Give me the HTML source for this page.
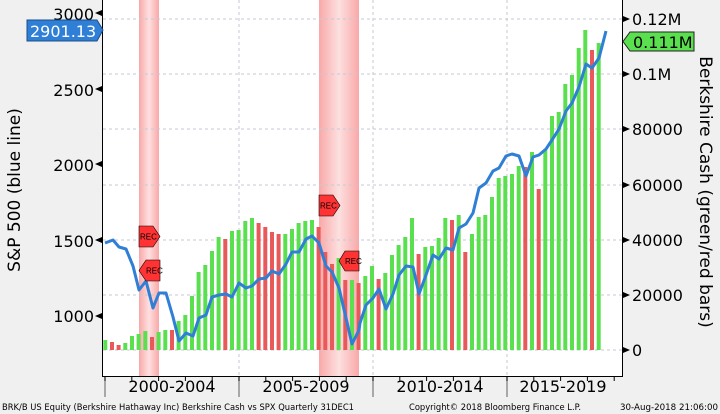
<!DOCTYPE html>
<html><head><style>body{margin:0;background:#f0f0f0}svg{display:block;font-family:"DejaVu Sans","Liberation Sans",sans-serif}</style></head><body>
<svg width="720" height="414" viewBox="0 0 720 414" xmlns="http://www.w3.org/2000/svg">
<defs><linearGradient id="rg" x1="0" x2="1"><stop offset="0" stop-color="#f9a8a8"/><stop offset="0.5" stop-color="#fde0e0"/><stop offset="1" stop-color="#f9a8a8"/></linearGradient></defs>
<rect x="0" y="0" width="720" height="414" fill="#f0f0f0"/>
<rect x="103" y="0" width="519" height="376" fill="#fff"/>
<rect x="139" y="0" width="20" height="376" fill="url(#rg)"/>
<rect x="319" y="0" width="40" height="376" fill="url(#rg)"/>
<g stroke="#c4cad4" stroke-dasharray="3,3" stroke-width="1">
<line x1="103" x2="622" y1="19" y2="19"/><line x1="103" x2="622" y1="74" y2="74"/><line x1="103" x2="622" y1="129" y2="129"/><line x1="103" x2="622" y1="185" y2="185"/><line x1="103" x2="622" y1="240" y2="240"/><line x1="103" x2="622" y1="295" y2="295"/><line x1="103" x2="622" y1="350" y2="350"/>
<line x1="239" x2="239" y1="0" y2="376"/><line x1="373" x2="373" y1="0" y2="376"/><line x1="507" x2="507" y1="0" y2="376"/>
</g>
<g id="bars"></g>
<polyline fill="none" stroke="#2f7fd6" stroke-width="3" stroke-linejoin="round" points="105,243 113,240 119,247 126,249 133,266 139,290 146,281 153,308 159,293 166,293 173,317 179,341 186,333 193,336 199,318 206,315 212,297 219,295 226,294 232,297 239,283 246,288 252,286 259,279 266,278 272,271 279,274 286,264 292,252 299,252 306,239 312,236 319,243 326,266 332,272 339,288 346,318 352,344 359,330 360,323 366,305 373,298 379,289 386,309 393,294 399,275 406,266 413,267 419,294 426,275 433,255 439,259 446,248 453,250 459,228 466,224 473,213 479,188 486,183 493,171 499,168 506,156 512,154 519,156 526,176 533,157 539,155 546,149 552,140 559,129 566,111 572,103 579,87 586,64 592,68 599,58 606,31"/>
<g stroke="#000" stroke-width="0.6" fill="#f33">
<path d="M139,226 h14 l7,10.5 l-7,10.5 h-14z"/><path d="M139,270.5 l7,-10.5 h14 v21 h-14z"/>
<path d="M319,195 h14 l7,10.5 l-7,10.5 h-14z"/><path d="M339,261 l6,-10 h14 v20 h-14z"/>
</g>
<g font-family="Liberation Sans,sans-serif" font-size="8" fill="#000"><text x="140" y="239.5">REC</text><text x="146" y="273.5">REC</text><text x="320" y="208.5">REC</text><text x="345" y="264">REC</text></g>
<line x1="102.5" y1="0" x2="102.5" y2="377" stroke="#000"/>
<line x1="622.5" y1="0" x2="622.5" y2="377" stroke="#000"/>
<line x1="102" y1="376.5" x2="623" y2="376.5" stroke="#000"/>
<g stroke="#777" stroke-width="1.2"><line x1="105" x2="105" y1="377" y2="397"/><line x1="239" x2="239" y1="377" y2="397"/><line x1="373" x2="373" y1="377" y2="397"/><line x1="507" x2="507" y1="377" y2="397"/></g>
<g id="minor" stroke="#000"></g>
<g font-size="16" fill="#000" text-anchor="end"><text x="94" y="20">3000</text><text x="94" y="96">2500</text><text x="94" y="171">2000</text><text x="94" y="247">1500</text><text x="94" y="322">1000</text></g>
<g fill="#000"><path d="M95,13 l7,-3 v6z M95,89 l7,-3 v6z M95,164 l7,-3 v6z M95,240 l7,-3 v6z M95,316 l7,-3 v6z"/>
<path d="M623,16 l7,3 l-7,3z M623,71 l7,3 l-7,3z M623,126 l7,3 l-7,3z M623,182 l7,3 l-7,3z M623,237 l7,3 l-7,3z M623,292 l7,3 l-7,3z M623,347 l7,3 l-7,3z"/></g>
<g font-size="16" fill="#000"><text x="632" y="25">0.12M</text><text x="632" y="80">0.1M</text><text x="632" y="135">80000</text><text x="632" y="191">60000</text><text x="632" y="246">40000</text><text x="632" y="301">20000</text><text x="632" y="356">0</text></g>
<path d="M27,20 h70 l6,10 l-6,11 h-70z" fill="#2f7fd6" stroke="#1a4f8a"/>
<text x="30" y="37" font-size="16" fill="#fff">2901.13</text>
<path d="M630,32 h64 v19 h-64 l-7,-9.5z" fill="#5ae04f" stroke="#222"/>
<text x="633" y="48" font-size="16" fill="#000">0.111M</text>
<text transform="translate(20,190) rotate(-90)" text-anchor="middle" font-size="17" fill="#000">S&amp;P 500 (blue line)</text>
<text transform="translate(700,192) rotate(90)" text-anchor="middle" font-size="17" fill="#000">Berkshire Cash (green/red bars)</text>
<g font-size="16" fill="#000" text-anchor="middle"><text x="172" y="392">2000-2004</text><text x="306" y="392">2005-2009</text><text x="440" y="392">2010-2014</text><text x="563" y="392">2015-2019</text></g>
<g font-size="9" fill="#000"><text x="2" y="410" textLength="352" lengthAdjust="spacingAndGlyphs">BRK/B US Equity (Berkshire Hathaway Inc) Berkshire Cash vs SPX  Quarterly 31DEC1</text><text x="409" y="410" textLength="172" lengthAdjust="spacingAndGlyphs">Copyright© 2018 Bloomberg Finance L.P.</text><text x="620" y="410" textLength="98" lengthAdjust="spacingAndGlyphs">30-Aug-2018 21:06:00</text></g>
</svg>
<script>
var d="340g 342r 345r 343g 336g 334g 331g 337r 332g 330g 330r 321g 315g 296g 272g 265g 251g 237g 239r 231g 230g 221g 218g 223r 227r 232r 234r 234g 229g 223g 221g 220g 227r 252r 264r 258g 280r 280g 283r 276g 266g 279r 273g 255g 245g 237g 218g 254r 247g 246g 238g 218g 220r 215g 252r 234g 217g 215g 197g 178g 176g 174g 166g 167r 152g 189r 150g 116g 112g 84g 75g 48g 30g 50r 43g".split(" ");
var s="";for(var i=0;i<d.length;i++){var y=parseFloat(d[i]),c=d[i].slice(-1)=="g"?"#5ae04f":"#e85a5a",x=105.3+i*6.667-2;s+='<rect x="'+x.toFixed(1)+'" y="'+y+'" width="4" height="'+(350-y)+'" fill="'+c+'"/>';}
document.getElementById("bars").innerHTML=s;
var m="";for(var k=0;k<20;k++){var x=105+k*26.8;m+='<line x1="'+x+'" x2="'+x+'" y1="377" y2="381"/>';}
document.getElementById("minor").innerHTML=m;
</script>
</body></html>
